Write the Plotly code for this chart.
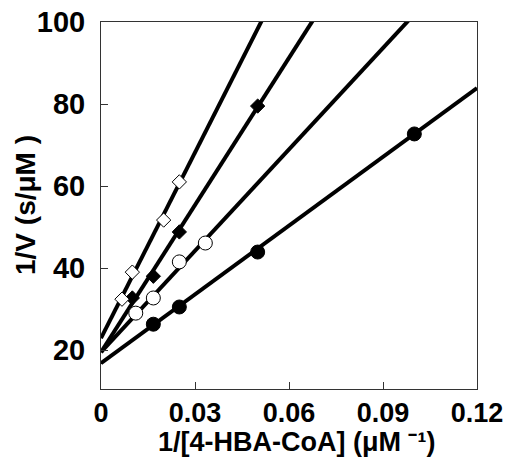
import plotly.graph_objects as go

# Data
x_filled_circle = [0.0167, 0.025, 0.05, 0.1]
y_filled_circle = [26.3, 30.5, 43.9, 72.7]

x_open_circle = [0.0111, 0.0167, 0.025, 0.0333]
y_open_circle = [29.0, 32.7, 41.5, 46.1]

x_filled_diamond = [0.0100, 0.0167, 0.025, 0.05]
y_filled_diamond = [32.7, 38.0, 48.8, 79.5]

x_open_diamond = [0.0067, 0.0100, 0.020, 0.025]
y_open_diamond = [32.4, 39.0, 51.7, 61.0]

# Linear fits (intercept, slope) of each series
fit_intercepts = [16.8, 19.5, 19.5, 22.9]
fit_slopes = [559, 824, 1196, 1509]
fit_x = [0, 0.12]

x_ticks = [0, 0.03, 0.06, 0.09, 0.12]
x_tick_labels = ["0", "0.03", "0.06", "0.09", "0.12"]
y_ticks = [20, 40, 60, 80, 100]
x_title = "1/[4-HBA-CoA] (μM \u207b\u00b9)"
y_title = "1/V (s/μM )"

fig = go.Figure()

for b, m in zip(fit_intercepts, fit_slopes):
    fig.add_trace(go.Scatter(
        x=fit_x, y=[b + m * xx for xx in fit_x], mode="lines",
        line=dict(color="black", width=4), showlegend=False, hoverinfo="skip"))

series = [
    (x_filled_circle, y_filled_circle, "circle", 14, "black"),
    (x_open_circle, y_open_circle, "circle", 14, "white"),
    (x_filled_diamond, y_filled_diamond, "diamond", 11, "black"),
    (x_open_diamond, y_open_diamond, "diamond", 11, "white"),
]
for xs, ys, sym, sz, fill in series:
    fig.add_trace(go.Scatter(
        x=xs, y=ys, mode="markers", showlegend=False,
        marker=dict(symbol=sym, size=sz, color=fill,
                    line=dict(color="black", width=1)),
        cliponaxis=False))

font_family = "Liberation Sans, Arial, sans-serif"
fig.update_layout(
    width=506, height=457,
    margin=dict(l=101, r=29, t=22, b=68),
    plot_bgcolor="white", paper_bgcolor="white",
    font=dict(family=font_family, color="black"),
    xaxis=dict(
        range=[0, 0.12], tickvals=x_ticks, ticktext=x_tick_labels,
        ticks="inside", ticklen=7, tickcolor="#333", tickwidth=1,
        showline=True, linecolor="#333", linewidth=1, mirror=True,
        showgrid=False, zeroline=False, automargin=False,
        tickfont=dict(size=27, family=font_family, weight="bold"),
    ),
    yaxis=dict(
        range=[10.5, 100], tickvals=y_ticks,
        ticks="inside", ticklen=7, tickcolor="#333", tickwidth=1,
        showline=True, linecolor="#333", linewidth=1, mirror=True,
        showgrid=False, zeroline=False, ticklabelstandoff=9, automargin=False,
        tickfont=dict(size=29, family=font_family, weight="bold"),
    ),
    annotations=[
        dict(text=x_title, xref="paper", yref="paper", x=0.52, y=0,
             xanchor="center", yanchor="top", yshift=-36, showarrow=False,
             font=dict(size=27, family=font_family, weight="bold")),
        dict(text=y_title, xref="paper", yref="paper", x=0, y=0.5,
             xanchor="right", yanchor="middle", xshift=-58, textangle=-90,
             showarrow=False,
             font=dict(size=28, family=font_family, weight="bold")),
    ],
)

fig.write_html("out.html")
